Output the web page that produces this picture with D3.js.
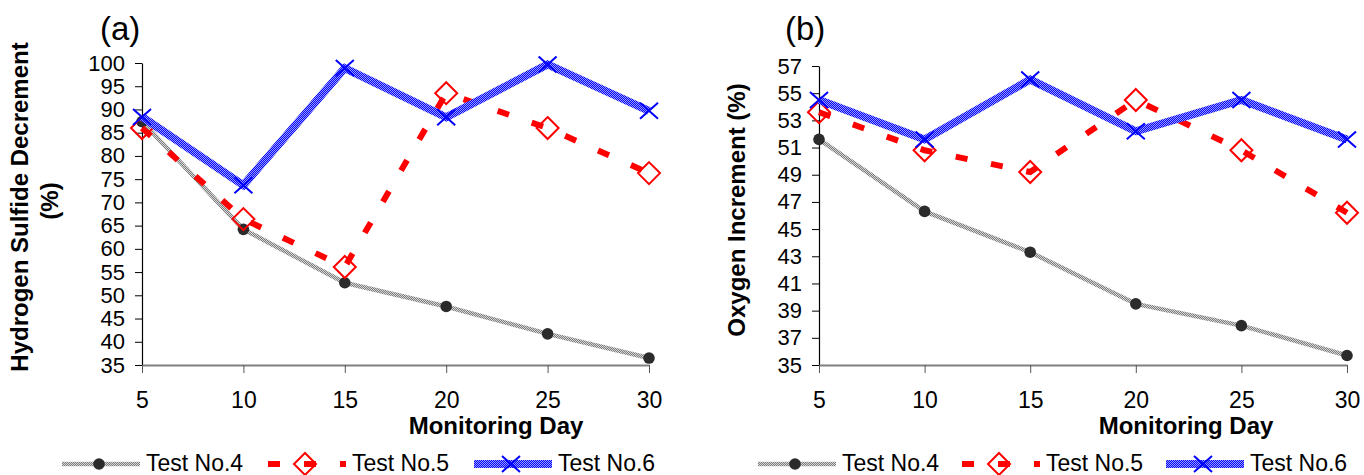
<!DOCTYPE html>
<html>
<head>
<meta charset="utf-8">
<script src="https://cdn.jsdelivr.net/npm/d3@7"></script>
<style>
  body { margin: 0; background: #fff; }
  svg { display: block; font-family: "Liberation Sans", Arial, sans-serif; }
</style>
</head>
<body>
<svg id="chart" width="1364" height="475"></svg>
<script>
const days = [5, 10, 15, 20, 25, 30];
const seriesNames = ["Test No.4", "Test No.5", "Test No.6"];

const h2sTest4 = [87.4, 64.2, 52.7, 47.6, 41.7, 36.5];
const h2sTest5 = [86.0, 66.4, 56.1, 93.5, 86.0, 76.3];
const h2sTest6 = [88.4, 73.7, 98.9, 88.3, 99.7, 89.7];
const h2sTicks = [35, 40, 45, 50, 55, 60, 65, 70, 75, 80, 85, 90, 95, 100];

const o2Test4 = [51.6, 46.3, 43.3, 39.5, 37.9, 35.7];
const o2Test5 = [53.6, 50.8, 49.2, 54.5, 50.8, 46.2];
const o2Test6 = [54.5, 51.6, 56.0, 52.2, 54.5, 51.6];
const o2Ticks = [35, 37, 39, 41, 43, 45, 47, 49, 51, 53, 55, 57];

let svg = d3.select('#chart');

// hatched textures for the gray and blue lines
let defs = svg.append('defs');
function hatch(id, base, light) {
    let p = defs.append('pattern').attr('id', id)
    .attr('patternUnits', 'userSpaceOnUse').attr('width', 2).attr('height', 2);
    p.append('rect').attr('width', 2).attr('height', 2).attr('fill', base);
    p.append('rect').attr('width', 1).attr('height', 1).attr('fill', light);
    p.append('rect').attr('x', 1).attr('y', 1).attr('width', 1).attr('height', 1).attr('fill', light);
}
hatch('hatchGray', '#7d7d7d', '#d6d6d6');
hatch('hatchBlue', '#0000ff', '#9a9aff');

const styles = [
    {stroke: 'url(#hatchGray)', width: 4.5, dash: null, marker: 'circle'},
    {stroke: '#ff0000', width: 6, dash: '12,24', marker: 'diamond'},
    {stroke: 'url(#hatchBlue)', width: 8, dash: null, marker: 'cross'}
];

function drawMarker(g, type, cx, cy) {
    if (type === 'circle') {
        g.append('circle').attr('cx', cx).attr('cy', cy).attr('r', 5.8).attr('fill', '#2b2b2b');
    } else if (type === 'diamond') {
        let r = 11;
        g.append('path')
        .attr('d', `M${cx},${cy - r}L${cx + r},${cy}L${cx},${cy + r}L${cx - r},${cy}Z`)
        .attr('fill', 'none').attr('stroke', '#ff0000').attr('stroke-width', 2);
    } else {
        g.append('path')
        .attr('d', `M${cx - 9},${cy - 8}L${cx + 9},${cy + 8}M${cx - 9},${cy + 8}L${cx + 9},${cy - 8}`)
        .attr('fill', 'none').attr('stroke', '#0000ff').attr('stroke-width', 2);
    }
}

function drawPanel(p) {
    let g = svg.append('g');

    let x = d3.scaleLinear().domain([5, 30]).range([p.left, p.right]);
    let y = d3.scaleLinear().domain(d3.extent(p.ticks)).range([p.bottom, p.top]);

    // axes
    let yAxis = g.append('g').attr('transform', `translate(${p.left},0)`)
    .call(d3.axisLeft(y).tickValues(p.ticks).tickSize(7).tickSizeOuter(0).tickPadding(10));
    yAxis.select('.domain').attr('stroke', '#000').attr('stroke-width', 1.2);
    yAxis.selectAll('.tick line').attr('stroke', '#000');
    yAxis.selectAll('text').attr('font-size', 22).attr('fill', '#000')
    .attr('font-family', '"Liberation Sans", Arial, sans-serif');

    let xAxis = g.append('g').attr('transform', `translate(0,${p.bottom})`)
    .call(d3.axisBottom(x).tickValues(days).tickSize(8).tickSizeOuter(0).tickPadding(19));
    xAxis.select('.domain').attr('stroke', '#808080').attr('stroke-width', 2);
    xAxis.selectAll('.tick line').attr('stroke', '#555');
    xAxis.selectAll('text').attr('font-size', 23).attr('fill', '#000')
    .attr('font-family', '"Liberation Sans", Arial, sans-serif');

    // series
    let line = d3.line().x((d, i) => x(days[i])).y(d => y(d));
    p.series.forEach((vals, k) => {
        let s = styles[k];
        let sg = g.append('g');
        sg.append('path').datum(vals)
        .attr('d', line)
        .attr('fill', 'none')
        .attr('stroke', s.stroke)
        .attr('stroke-width', s.width)
        .attr('stroke-dasharray', s.dash)
        .attr('stroke-linejoin', 'miter');
        vals.forEach((v, i) => drawMarker(sg, s.marker, x(days[i]), y(v)));
    });

    // titles
    g.append('text').attr('x', p.labelX).attr('y', 40)
    .attr('font-size', 33).text(p.label);

    g.append('text').attr('x', p.xTitleX).attr('y', 434)
    .attr('text-anchor', 'middle').attr('font-size', 24).attr('font-weight', 'bold')
    .text('Monitoring Day');

    p.yTitle.forEach(t => {
        g.append('text')
        .attr('transform', `translate(${t.x},${t.y}) rotate(-90)`)
        .attr('text-anchor', 'middle').attr('font-size', 24).attr('font-weight', 'bold')
        .text(t.text);
    });

    // legend
    seriesNames.forEach((name, k) => {
        let s = styles[k];
        let x0 = p.legendX + k * p.legendStep;
        let lg = g.append('g');
        lg.append('line')
        .attr('x1', x0).attr('x2', x0 + 78).attr('y1', 464).attr('y2', 464)
        .attr('stroke', s.stroke).attr('stroke-width', s.width)
        .attr('stroke-dasharray', s.dash);
        drawMarker(lg, s.marker, x0 + 37, 464);
        lg.append('text').attr('x', x0 + 84).attr('y', 471)
        .attr('font-size', 23).text(name);
    });
}

drawPanel({
    left: 142, right: 649, top: 63, bottom: 365,
    ticks: h2sTicks,
    series: [h2sTest4, h2sTest5, h2sTest6],
    label: '(a)', labelX: 100,
    xTitleX: 496,
    yTitle: [
        {x: 28, y: 207, text: 'Hydrogen Sulfide Decrement'},
        {x: 58, y: 201, text: '(%)'}
    ],
    legendX: 62, legendStep: 206
});

drawPanel({
    left: 819, right: 1347, top: 66, bottom: 365,
    ticks: o2Ticks,
    series: [o2Test4, o2Test5, o2Test6],
    label: '(b)', labelX: 785,
    xTitleX: 1186,
    yTitle: [
        {x: 745, y: 210, text: 'Oxygen Increment (%)'}
    ],
    legendX: 758, legendStep: 204
});
</script>
</body>
</html>
